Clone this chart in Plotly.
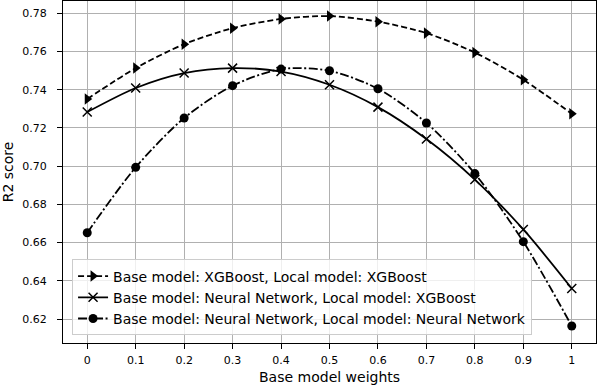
import plotly.graph_objects as go

weights = [0, 0.1, 0.2, 0.3, 0.4, 0.5, 0.6, 0.7, 0.8, 0.9, 1]
tick_labels = ["0", "0.1", "0.2", "0.3", "0.4", "0.5", "0.6", "0.7", "0.8", "0.9", "1"]
xgb_xgb = [0.7351, 0.7513, 0.7638, 0.7722, 0.7770, 0.7785, 0.7756, 0.7696, 0.7594, 0.7452, 0.7274]
nn_xgb = [0.7283, 0.7409, 0.7487, 0.7513, 0.7495, 0.7426, 0.7309, 0.7142, 0.6930, 0.6669, 0.6360]
nn_nn = [0.6652, 0.6994, 0.7252, 0.7421, 0.7508, 0.7499, 0.7405, 0.7226, 0.6961, 0.6605, 0.6164]

names = [
    "Base model: XGBoost, Local model: XGBoost",
    "Base model: Neural Network, Local model: XGBoost",
    "Base model: Neural Network, Local model: Neural Network",
]

fig = go.Figure()
fig.add_trace(go.Scatter(
    x=weights, y=xgb_xgb, name=names[0], mode="lines+markers",
    line=dict(color="black", width=1.8, dash="6px,3px", shape="spline", smoothing=0.8),
    marker=dict(symbol="triangle-right", size=10, color="black"),
))
fig.add_trace(go.Scatter(
    x=weights, y=nn_xgb, name=names[1], mode="lines+markers",
    line=dict(color="black", width=1.8, shape="spline", smoothing=0.8),
    marker=dict(symbol="x-thin-open", size=9, color="black", line=dict(color="black", width=1.5)),
))
fig.add_trace(go.Scatter(
    x=weights, y=nn_nn, name=names[2], mode="lines+markers",
    line=dict(color="black", width=1.8, dash="9px,2.5px,2px,2.5px", shape="spline", smoothing=0.8),
    marker=dict(symbol="circle", size=9, color="black"),
))

tick_font = dict(family="DejaVu Sans", size=11, color="black")
label_font = dict(family="DejaVu Sans", size=14, color="black")
fig.update_layout(
    width=598, height=386,
    margin=dict(l=63, r=2, t=1, b=43),
    paper_bgcolor="white", plot_bgcolor="white",
    font=tick_font,
    showlegend=True,
    legend=dict(
        x=0.017, y=0.022, xanchor="left", yanchor="bottom",
        bgcolor="rgba(255,255,255,0.8)", bordercolor="#cccccc", borderwidth=1,
        font=label_font,
        tracegroupgap=0, itemwidth=30,
    ),
    annotations=[dict(
        text="Base model weights", xref="paper", yref="paper",
        x=0.5, y=-0.098, xanchor="center", yanchor="middle",
        showarrow=False, font=label_font,
    )],
)
fig.update_xaxes(
    range=[-0.05, 1.05], tickmode="array", tickvals=weights, ticktext=tick_labels,
    tickfont=tick_font, automargin=False,
    showgrid=True, gridcolor="#b0b0b0", gridwidth=0.8,
    showline=True, linecolor="black", linewidth=1, mirror=True,
    ticks="outside", ticklen=5, tickcolor="black", zeroline=False,
    ticklabelstandoff=2,
)
fig.update_yaxes(
    range=[0.6075, 0.7864], tickmode="array",
    tickvals=[0.62, 0.64, 0.66, 0.68, 0.70, 0.72, 0.74, 0.76, 0.78],
    ticktext=["0.62", "0.64", "0.66", "0.68", "0.70", "0.72", "0.74", "0.76", "0.78"],
    tickfont=tick_font, automargin=False,
    showgrid=True, gridcolor="#b0b0b0", gridwidth=0.8,
    showline=True, linecolor="black", linewidth=1, mirror=True,
    ticks="outside", ticklen=5, tickcolor="black", zeroline=False,
    ticklabelstandoff=8,
    title=dict(text="R2 score", font=label_font, standoff=8),
)
fig.write_html("out.html", config={"displayModeBar": False},
               post_script="document.body.style.margin='0';")
